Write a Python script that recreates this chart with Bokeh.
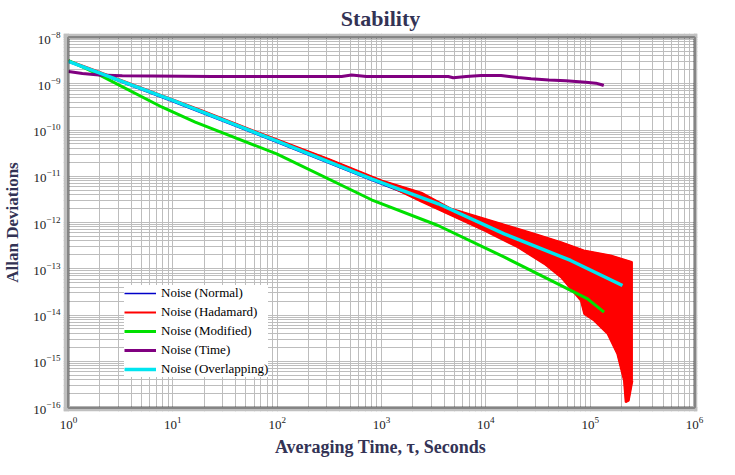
from bokeh.plotting import figure
from bokeh.models import (Range1d, FixedTicker, BoxAnnotation, Legend, LegendItem)
from bokeh.embed import file_html
from bokeh.resources import INLINE

# ---------------- data ----------------
title_text = "Stability"
x_label_text = "Averaging Time, \u03c4, Seconds"
y_label_text = "Allan Deviations"

x_decades = [1e0, 1e1, 1e2, 1e3, 1e4, 1e5, 1e6]
y_decades = [1e-16, 1e-15, 1e-14, 1e-13, 1e-12, 1e-11, 1e-10, 1e-9, 1e-8]

normal_tau = [1, 10, 100, 800, 3500, 15000, 65000, 204000]
normal_dev = [2.95e-9, 4.07e-10, 5.37e-11, 8.13e-12, 2.24e-12, 4.68e-13, 1.12e-13, 3.55e-14]

overlap_tau = [1, 10, 100, 800, 3500, 15000, 65000, 204000]
overlap_dev = [3.03e-9, 4.35e-10, 5.78e-11, 8.81e-12, 2.54e-12, 5.70e-13, 1.51e-13, 4.35e-14]

hadamard_upper_tau = [1, 1.82, 19.1, 71.3, 310, 1000, 2410, 4670, 14000, 29000,
                      52500, 86900, 157000, 254000]
hadamard_upper_dev = [3.18e-9, 1.93e-9, 2.64e-10, 8.28e-11, 2.38e-11, 8.09e-12, 4.40e-12,
                      1.98e-12, 9.38e-13, 5.70e-13, 3.75e-13, 2.48e-13, 1.93e-13, 1.39e-13]
hadamard_lower_tau = [1, 19.1, 310, 1000, 2410, 4670, 9700, 20200, 36300, 52500, 81500,
                      87700, 109000, 147000, 182000, 211000, 219000, 234000, 254000]
hadamard_lower_dev = [3.02e-9, 2.51e-10, 2.19e-11, 7.41e-12, 2.84e-12, 1.42e-12, 6.71e-13,
                      2.92e-13, 1.28e-13, 6.56e-14, 2.06e-14, 1.06e-14, 7.60e-15, 3.93e-15,
                      1.45e-15, 3.84e-16, 1.30e-16, 1.41e-16, 3.80e-16]

modified_tau = [1, 1.89, 7.91, 16.4, 99, 802, 3480, 15070, 45290, 94400, 135800]
modified_dev = [3.18e-9, 1.64e-9, 3.11e-10, 1.48e-10, 3.05e-11, 3.10e-12, 8.61e-13,
                1.78e-13, 5.12e-14, 2.24e-14, 1.15e-14]

time_tau = [1, 1.36, 1.96, 3.28, 23.8, 415, 516, 719, 4365, 4875, 6486, 9016, 14000,
            16710, 20370, 27100, 40270, 58480, 90780, 113200, 126500, 134900]
time_dev = [1.84e-9, 1.67e-9, 1.55e-9, 1.49e-9, 1.44e-9, 1.44e-9, 1.55e-9, 1.44e-9,
            1.44e-9, 1.35e-9, 1.44e-9, 1.51e-9, 1.51e-9, 1.44e-9, 1.36e-9, 1.28e-9,
            1.20e-9, 1.16e-9, 1.08e-9, 1.03e-9, 9.64e-10, 9.16e-10]

legend_labels = ["Noise (Normal)", "Noise (Hadamard)", "Noise (Modified)",
                 "Noise (Time)", "Noise (Overlapping)"]

# ---------------- layout ----------------
W, H = 727, 467
FL, FR, FT, FB = 61, 697, 33, 411          # frame incl. grey rim (canvas px)
DL, DR, DT, DB = 66, 694, 37, 407          # data box (canvas px)
pdx = (DR - DL) / 6.0
pdy = (DB - DT) / 8.0
x_range = Range1d(10 ** (0 - (DL - FL) / pdx), 10 ** (6 + (FR - DR) / pdx))
y_range = Range1d(10 ** (-16 - (FB - DB) / pdy), 10 ** (-8 + (DT - FT) / pdy))

FONT = "Liberation Serif"
TC = "#333355"

p = figure(width=W, height=H, x_axis_type="log", y_axis_type="log",
           x_range=x_range, y_range=y_range, output_backend="svg",
           toolbar_location=None, min_border_left=FL, min_border_right=W - FR,
           min_border_top=FT, min_border_bottom=H - FB, title=title_text)
p.background_fill_color = "white"
p.border_fill_color = "white"
p.outline_line_color = None

p.title.align = "center"
p.title.text_font = FONT
p.title.text_font_size = "22px"
p.title.text_font_style = "bold"
p.title.text_color = TC
p.title.standoff = 5

x_minor = [d * m for d in x_decades[:-1] for m in range(2, 10)]
y_minor = [d * m for d in y_decades[:-1] for m in range(2, 10)]
xt = FixedTicker(ticks=x_decades, minor_ticks=x_minor)
yt = FixedTicker(ticks=y_decades, minor_ticks=y_minor)
p.xaxis.ticker = xt
p.yaxis.ticker = yt
p.xgrid.ticker = xt
p.ygrid.ticker = yt

for ax in (p.xaxis, p.yaxis):
    ax.axis_line_color = None
    ax.major_tick_line_color = None
    ax.minor_tick_line_color = None
    ax.major_tick_out = 0
    ax.minor_tick_out = 0
    ax.major_label_text_font = FONT
    ax.major_label_text_font_size = "13px"
    ax.major_label_text_color = "#222222"
    ax.axis_label_text_font = FONT
    ax.axis_label_text_font_style = "bold"
    ax.axis_label_text_color = TC
p.xaxis.axis_label_text_font_size = "18px"
p.yaxis.axis_label_text_font_size = "17px"
p.xaxis.major_label_standoff = 5
p.yaxis.major_label_standoff = 3
p.xaxis.axis_label = x_label_text
p.yaxis.axis_label = y_label_text
p.xaxis.axis_label_standoff = 5
p.yaxis.axis_label_standoff = 8

GRID = "#bdbdbd"
for g in (p.xgrid, p.ygrid):
    g.grid_line_color = GRID
    g.grid_line_width = 1
    g.minor_grid_line_color = GRID
    g.minor_grid_line_width = 1

# ---------------- series ----------------
BLUE, RED, GREEN, PURPLE, CYAN = "#0000c8", "#ff0000", "#00e000", "#800080", "#00e5f0"

r_blue = p.line(normal_tau, normal_dev, line_color=BLUE, line_width=1.5)
band_x = hadamard_upper_tau + hadamard_lower_tau[::-1]
band_y = hadamard_upper_dev + hadamard_lower_dev[::-1]
p.patch(band_x, band_y, fill_color=RED, line_color=RED, line_width=1)
r_red = p.line(hadamard_upper_tau, hadamard_upper_dev, line_color=RED, line_width=2)
p.line(hadamard_lower_tau, hadamard_lower_dev, line_color=RED, line_width=2)
r_green = p.line(modified_tau, modified_dev, line_color=GREEN, line_width=3)
r_purple = p.line(time_tau, time_dev, line_color=PURPLE, line_width=3)
r_cyan = p.line(overlap_tau, overlap_dev, line_color=CYAN, line_width=3.5)

# ---------------- frame rim ----------------
RIM = "#c0c0c0"
for kw in (dict(right=x_decades[0]), dict(left=x_decades[-1]),
           dict(top=y_decades[0]), dict(bottom=y_decades[-1])):
    p.add_layout(BoxAnnotation(fill_color=RIM, fill_alpha=1, line_color=None, **kw))
p.add_layout(BoxAnnotation(left=x_decades[0], right=x_decades[-1],
                           bottom=y_decades[0], top=y_decades[-1],
                           fill_alpha=0, line_color="black", line_width=3))

# ---------------- legend ----------------
legend = Legend(items=[LegendItem(label=legend_labels[0], renderers=[r_blue]),
                       LegendItem(label=legend_labels[1], renderers=[r_red]),
                       LegendItem(label=legend_labels[2], renderers=[r_green]),
                       LegendItem(label=legend_labels[3], renderers=[r_purple]),
                       LegendItem(label=legend_labels[4], renderers=[r_cyan])],
                location=(61, 34))
legend.border_line_color = None
legend.background_fill_color = "white"
legend.background_fill_alpha = 1
legend.margin = 0
legend.padding = 4
legend.spacing = 3
legend.glyph_width = 32
legend.glyph_height = 16
legend.label_height = 16
legend.label_standoff = 5
legend.label_text_font = FONT
legend.label_text_font_size = "13px"
legend.label_text_color = "black"
p.add_layout(legend)

open("out.html", "w").write(file_html(p, INLINE))
